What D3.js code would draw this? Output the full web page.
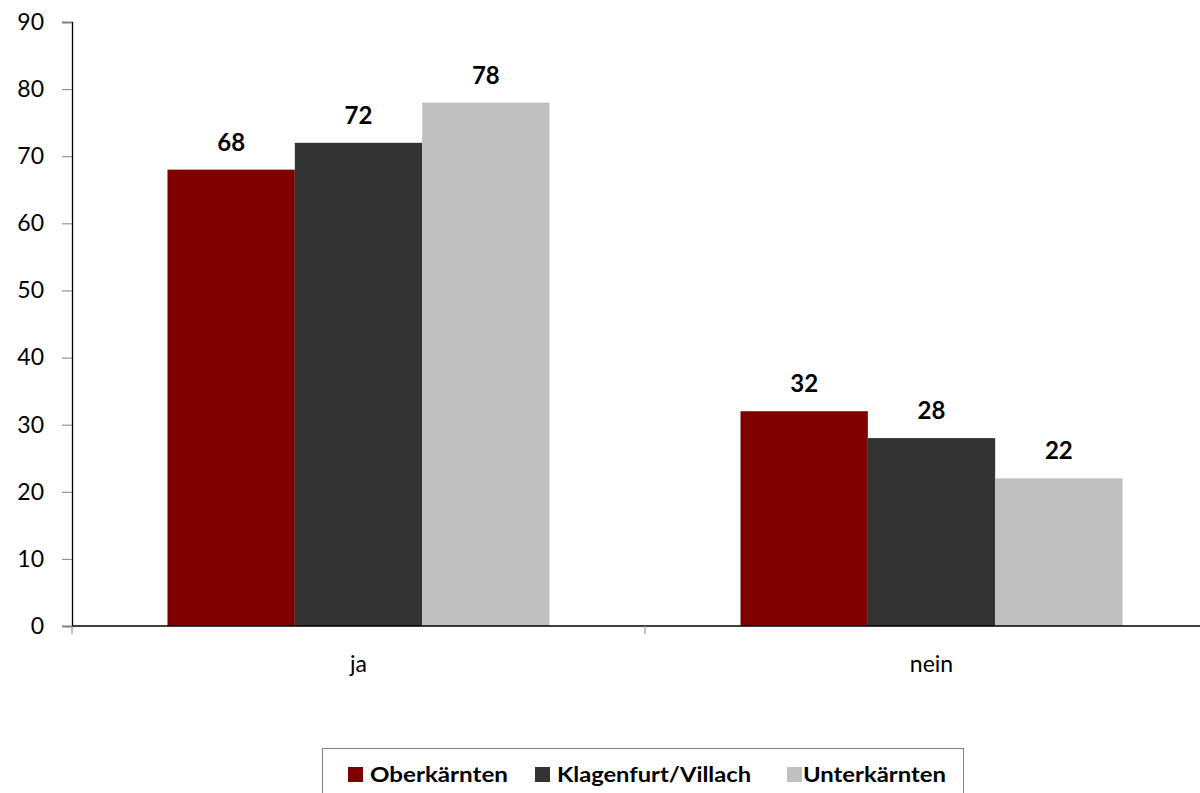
<!DOCTYPE html>
<html lang="de">
<head>
<meta charset="utf-8">
<script src="https://cdn.jsdelivr.net/npm/d3@7"></script>
<style>
  body { margin: 0; background: #fff; font-family: Lato, "Open Sans", sans-serif; }
</style>
</head>
<body>
<script>
// chart data
var categories = ["ja", "nein"];
var seriesNames = ["Oberkärnten", "Klagenfurt/Villach", "Unterkärnten"];
var seriesColors = ["#7f0000", "#333333", "#c0c0c0"];
var oberkaernten = [68, 32];
var klagenfurtVillach = [72, 28];
var unterkaernten = [78, 22];
var yTicks = [0, 10, 20, 30, 40, 50, 60, 70, 80, 90];

var seriesValues = [oberkaernten, klagenfurtVillach, unterkaernten];

var w = 1200, h = 793;
var plotLeft = 72, plotTop = 22, plotBottom = 626, plotRight = 1218;

var svg = d3.select("body").append("svg")
  .attr("width", w)
  .attr("height", h);

var x = d3.scaleBand()
  .domain(categories)
  .range([plotLeft, plotRight]);

// gap width 150% -> bars take 3 / 4.5 of band
var x1 = d3.scaleBand()
  .domain(seriesNames)
  .range([0, x.bandwidth()])
  .paddingInner(0)
  .paddingOuter(0.75);

var y = d3.scaleLinear()
  .domain([0, 90])
  .range([plotBottom, plotTop]);

// bars
var groups = svg.selectAll(".cat")
  .data(categories)
  .enter().append("g")
  .attr("class", "cat")
  .attr("transform", function(d) { return "translate(" + x(d) + ",0)"; });

groups.selectAll("rect")
  .data(function(d, i) {
    return seriesNames.map(function(s, j) { return { name: s, value: seriesValues[j][i], color: seriesColors[j] }; });
  })
  .enter().append("rect")
  .attr("x", function(d) { return x1(d.name); })
  .attr("y", function(d) { return y(d.value); })
  .attr("width", x1.bandwidth())
  .attr("height", function(d) { return plotBottom - y(d.value); })
  .attr("fill", function(d) { return d.color; });

// value labels
groups.selectAll(".val")
  .data(function(d, i) {
    return seriesNames.map(function(s, j) { return { name: s, value: seriesValues[j][i] }; });
  })
  .enter().append("text")
  .attr("class", "val")
  .attr("x", function(d) { return x1(d.name) + x1.bandwidth() / 2; })
  .attr("y", function(d) { return y(d.value) - 19; })
  .attr("text-anchor", "middle")
  .style("font-size", "24px")
  .style("font-weight", "bold")
  .text(function(d) { return d.value; });

// y axis
var yAxis = svg.append("g")
  .attr("transform", "translate(" + plotLeft + ",0)")
  .call(d3.axisLeft(y).tickValues(yTicks).tickSize(10).tickPadding(18));
yAxis.select(".domain").attr("stroke", "#000").attr("stroke-width", 1.3);
yAxis.selectAll(".tick line").attr("stroke", "#808080");
yAxis.selectAll(".tick text")
  .style("font-family", "Lato, 'Open Sans', sans-serif")
  .style("font-size", "23px")
  .attr("fill", "#000");

// x axis
var xAxis = svg.append("g")
  .attr("transform", "translate(0," + plotBottom + ")");
xAxis.append("line")
  .attr("x1", plotLeft).attr("x2", plotRight)
  .attr("stroke", "#000").attr("stroke-width", 1.5);
xAxis.selectAll(".xt")
  .data(categories.concat(["end"]))
  .enter().append("line")
  .attr("x1", function(d) { return d === "end" ? plotRight : x(d); })
  .attr("x2", function(d) { return d === "end" ? plotRight : x(d); })
  .attr("y1", 0).attr("y2", 8)
  .attr("stroke", "#a0a0a0").attr("stroke-width", 1.3);
xAxis.selectAll(".xl")
  .data(categories)
  .enter().append("text")
  .attr("x", function(d) { return x(d) + x.bandwidth() / 2; })
  .attr("y", 46)
  .attr("text-anchor", "middle")
  .style("font-size", "23px")
  .text(function(d) { return d; });

// legend
var legend = svg.append("g");
legend.append("rect")
  .attr("x", 322.5).attr("y", 748.5)
  .attr("width", 641).attr("height", 70)
  .attr("fill", "#fff")
  .attr("stroke", "#808080");

var legendX = [348, 535, 787];
var legendTextW = [138, 194, 143];
var items = legend.selectAll(".item")
  .data(seriesNames)
  .enter().append("g")
  .attr("transform", function(d, i) { return "translate(" + legendX[i] + ",767)"; });
items.append("rect")
  .attr("width", 15).attr("height", 15)
  .attr("fill", function(d, i) { return seriesColors[i]; });
items.append("text")
  .attr("x", function(d, i) { return i === 2 ? 16 : 22; })
  .attr("y", 15)
  .attr("textLength", function(d, i) { return legendTextW[i]; })
  .attr("lengthAdjust", "spacingAndGlyphs")
  .style("font-size", "21px")
  .style("font-weight", "bold")
  .text(function(d) { return d; });
</script>
</body>
</html>
